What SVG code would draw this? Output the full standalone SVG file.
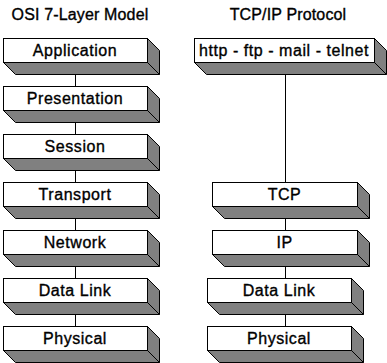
<svg xmlns="http://www.w3.org/2000/svg" xmlns:xlink="http://www.w3.org/1999/xlink" width="387" height="363" viewBox="0 0 387 363">
<style>
.sh{fill:#808080;stroke:#000;stroke-width:1}
.fr{fill:#fff;stroke:#000;stroke-width:1}
.ed{stroke:#000;stroke-width:1;fill:none}
.lbl{font-family:"Liberation Sans",Arial,sans-serif;font-size:16px;letter-spacing:0.55px;fill:#000;stroke:#000;stroke-width:0.35;text-anchor:middle}
.ttl{font-family:"Liberation Sans",Arial,sans-serif;font-size:16px;letter-spacing:0.15px;fill:#000;stroke:#000;stroke-width:0.35;text-anchor:middle}
.cn{stroke:#000;stroke-width:1;fill:none}
</style>
<defs>
<g id="b144">
<polygon class="sh" points="0.5,24.5 12.5,36.5 156.5,36.5 156.5,12.5 144.5,0.5"/>
<line class="ed" x1="144.5" y1="24.5" x2="156.5" y2="36.5"/>
<rect class="fr" x="0.5" y="0.5" width="144" height="24"/>
</g>
<g id="b145">
<polygon class="sh" points="0.5,24.5 12.5,36.5 157.5,36.5 157.5,12.5 145.5,0.5"/>
<line class="ed" x1="145.5" y1="24.5" x2="157.5" y2="36.5"/>
<rect class="fr" x="0.5" y="0.5" width="145" height="24"/>
</g>
<g id="b180">
<polygon class="sh" points="0.5,24.5 12.5,36.5 192.5,36.5 192.5,12.5 180.5,0.5"/>
<line class="ed" x1="180.5" y1="24.5" x2="192.5" y2="36.5"/>
<rect class="fr" x="0.5" y="0.5" width="180" height="24"/>
</g>
</defs>
<rect x="0" y="0" width="387" height="363" fill="#fff"/>
<text class="ttl" x="80" y="20">OSI 7-Layer Model</text>
<text class="ttl" x="288" y="20">TCP/IP Protocol</text>
<g id="connectors">
<line class="cn" x1="75.5" y1="62" x2="75.5" y2="86"/>
<line class="cn" x1="75.5" y1="110" x2="75.5" y2="134"/>
<line class="cn" x1="75.5" y1="158" x2="75.5" y2="182"/>
<line class="cn" x1="75.5" y1="206" x2="75.5" y2="230"/>
<line class="cn" x1="75.5" y1="254" x2="75.5" y2="278"/>
<line class="cn" x1="75.5" y1="302" x2="75.5" y2="326"/>
<line class="cn" x1="285.5" y1="62" x2="285.5" y2="182"/>
<line class="cn" x1="285.5" y1="206" x2="285.5" y2="230"/>
<line class="cn" x1="285.5" y1="254" x2="285.5" y2="278"/>
<line class="cn" x1="285.5" y1="302" x2="285.5" y2="326"/>
</g>
<g id="application" transform="translate(3 38)"><use xlink:href="#b144"/><text class="lbl" x="72" y="18">Application</text></g>
<g id="presentation" transform="translate(3 86)"><use xlink:href="#b144"/><text class="lbl" x="72" y="18">Presentation</text></g>
<g id="session" transform="translate(3 134)"><use xlink:href="#b144"/><text class="lbl" x="72" y="18">Session</text></g>
<g id="transport" transform="translate(3 182)"><use xlink:href="#b144"/><text class="lbl" x="72" y="18">Transport</text></g>
<g id="network" transform="translate(3 230)"><use xlink:href="#b144"/><text class="lbl" x="72" y="18">Network</text></g>
<g id="datalink-osi" transform="translate(3 278)"><use xlink:href="#b144"/><text class="lbl" x="72" y="18">Data Link</text></g>
<g id="physical-osi" transform="translate(3 326)"><use xlink:href="#b144"/><text class="lbl" x="72" y="18">Physical</text></g>
<g id="apps" transform="translate(194 38)"><use xlink:href="#b180"/><text class="lbl" x="90" y="18">http - ftp - mail - telnet</text></g>
<g id="tcp" transform="translate(212 182)"><use xlink:href="#b145"/><text class="lbl" x="72.5" y="18">TCP</text></g>
<g id="ip" transform="translate(212 230)"><use xlink:href="#b145"/><text class="lbl" x="72.5" y="18">IP</text></g>
<g id="datalink-tcp" transform="translate(207 278)"><use xlink:href="#b144"/><text class="lbl" x="72" y="18">Data Link</text></g>
<g id="physical-tcp" transform="translate(207 326)"><use xlink:href="#b144"/><text class="lbl" x="72" y="18">Physical</text></g>
</svg>
